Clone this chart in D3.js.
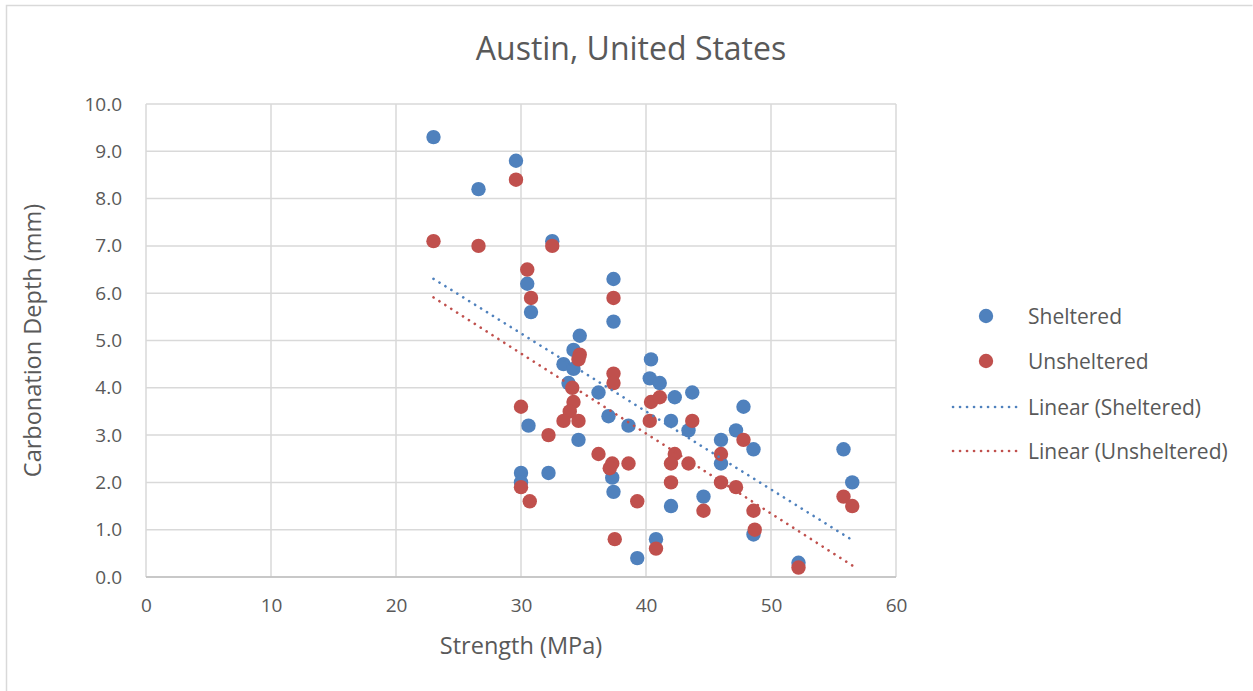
<!DOCTYPE html>
<html>
<head>
<meta charset="utf-8">
<script src="https://cdn.jsdelivr.net/npm/d3@7"></script>
<style>
  html, body { margin: 0; padding: 0; background: #fff; }
  svg { display: block; font-family: "Open Sans", Lato, sans-serif; }
</style>
</head>
<body>
<svg id="chart" width="1253" height="691"></svg>
<script>
// Compressive strength (MPa) vs carbonation depth (mm), Austin specimens
const shelteredStrength = [23.0, 26.6, 29.6, 32.5, 30.5, 30.8, 37.4, 37.4, 34.7, 34.2, 33.4, 34.2, 33.8, 36.2, 37.0, 38.6, 34.6, 30.6, 30.0, 30.0, 32.2, 37.3, 37.4, 39.3, 40.8, 40.4, 40.3, 41.1, 42.3, 43.7, 42.0, 43.4, 47.8, 47.2, 46.0, 46.0, 48.6, 44.6, 42.0, 48.6, 52.2, 55.8, 56.5];
const shelteredDepth    = [9.3, 8.2, 8.8, 7.1, 6.2, 5.6, 6.3, 5.4, 5.1, 4.8, 4.5, 4.4, 4.1, 3.9, 3.4, 3.2, 2.9, 3.2, 2.2, 2.0, 2.2, 2.1, 1.8, 0.4, 0.8, 4.6, 4.2, 4.1, 3.8, 3.9, 3.3, 3.1, 3.6, 3.1, 2.9, 2.4, 2.7, 1.7, 1.5, 0.9, 0.3, 2.7, 2.0];

const unshelteredStrength = [23.0, 26.6, 29.6, 32.5, 30.5, 30.8, 37.4, 34.7, 34.6, 37.4, 37.4, 34.1, 34.2, 33.9, 33.4, 34.6, 30.0, 32.2, 36.2, 37.3, 37.1, 38.6, 30.0, 30.7, 39.3, 37.5, 40.4, 41.1, 40.3, 43.7, 47.8, 46.0, 42.3, 42.0, 43.4, 42.0, 46.0, 47.2, 44.6, 48.6, 48.7, 40.8, 52.2, 55.8, 56.5];
const unshelteredDepth    = [7.1, 7.0, 8.4, 7.0, 6.5, 5.9, 5.9, 4.7, 4.6, 4.3, 4.1, 4.0, 3.7, 3.5, 3.3, 3.3, 3.6, 3.0, 2.6, 2.4, 2.3, 2.4, 1.9, 1.6, 1.6, 0.8, 3.7, 3.8, 3.3, 3.3, 2.9, 2.6, 2.6, 2.4, 2.4, 2.0, 2.0, 1.9, 1.4, 1.4, 1.0, 0.6, 0.2, 1.7, 1.5];

const xTicks = [0, 10, 20, 30, 40, 50, 60];
const yTicks = [0, 1, 2, 3, 4, 5, 6, 7, 8, 9, 10];

const seriesNames = ["Sheltered", "Unsheltered"];
const seriesColors = ["#4f81bd", "#c0504d"];

const svg = d3.select("#chart");
const textColor = "#595959";
const gridColor = "#d9d9d9";

// chart area frame
svg.append("path")
  .attr("d", "M6.5,700 V5.5 H1252.5")
  .attr("fill", "none")
  .attr("stroke", gridColor)
  .attr("stroke-width", 1.5);

const plot = { left: 146, top: 104, right: 896, bottom: 577 };

const x = d3.scaleLinear().domain([0, 60]).range([plot.left, plot.right]);
const y = d3.scaleLinear().domain([0, 10]).range([plot.bottom, plot.top]);

// gridlines
const grid = svg.append("g");
grid.selectAll("line.h").data(yTicks).join("line")
  .attr("x1", plot.left).attr("x2", plot.right)
  .attr("y1", d => y(d)).attr("y2", d => y(d))
  .attr("stroke", gridColor).attr("stroke-width", 1.5);
grid.selectAll("line.v").data(xTicks).join("line")
  .attr("y1", plot.top).attr("y2", plot.bottom)
  .attr("x1", d => x(d)).attr("x2", d => x(d))
  .attr("stroke", gridColor).attr("stroke-width", 1.5);

// axes
const xAxis = svg.append("g")
  .attr("transform", `translate(0,${plot.bottom})`)
  .call(d3.axisBottom(x).tickValues(xTicks).tickSize(0).tickPadding(22).tickFormat(d3.format("d")));
const yAxis = svg.append("g")
  .attr("transform", `translate(${plot.left},0)`)
  .call(d3.axisLeft(y).tickValues(yTicks).tickSize(0).tickPadding(24).tickFormat(d3.format(".1f")));
[xAxis, yAxis].forEach(g => {
  g.select(".domain").remove();
  g.selectAll("text").attr("fill", textColor).style("font-size", "19px").style("font-family", "'Open Sans', sans-serif");
});
svg.append("line")
  .attr("x1", plot.left).attr("x2", plot.right)
  .attr("y1", plot.bottom).attr("y2", plot.bottom)
  .attr("stroke", "#bfbfbf").attr("stroke-width", 1.5);

// linear least-squares fit, drawn across the range of each series
function fit(xs, ys) {
  const n = xs.length;
  const mx = d3.mean(xs), my = d3.mean(ys);
  let sxy = 0, sxx = 0;
  for (let i = 0; i < n; i++) { sxy += (xs[i] - mx) * (ys[i] - my); sxx += (xs[i] - mx) ** 2; }
  const b = sxy / sxx, a = my - b * mx;
  const x0 = d3.min(xs), x1 = d3.max(xs);
  return [[x0, a + b * x0], [x1, a + b * x1]];
}

const series = [
  { xs: shelteredStrength, ys: shelteredDepth },
  { xs: unshelteredStrength, ys: unshelteredDepth }
];

// markers
series.forEach((s, i) => {
  const pts = s.xs.map((v, j) => [v, s.ys[j]]);
  svg.append("g").selectAll("circle").data(pts).join("circle")
    .attr("cx", d => x(d[0])).attr("cy", d => y(d[1]))
    .attr("r", 7.2)
    .attr("fill", seriesColors[i]);
});

// trendlines
const line = d3.line().x(d => x(d[0])).y(d => y(d[1]));
series.forEach((s, i) => {
  svg.append("path")
    .attr("d", line(fit(s.xs, s.ys)))
    .attr("fill", "none")
    .attr("stroke", seriesColors[i])
    .attr("stroke-width", 2.6)
    .attr("stroke-linecap", "round")
    .attr("stroke-dasharray", "0.1 6.9");
});

// title
svg.append("text")
  .attr("x", 631).attr("y", 60)
  .attr("text-anchor", "middle")
  .attr("fill", textColor)
  .style("font-size", "32px")
  .text("Austin, United States");

// axis titles
svg.append("text")
  .attr("x", (plot.left + plot.right) / 2).attr("y", 654)
  .attr("text-anchor", "middle")
  .attr("fill", textColor)
  .style("font-size", "23.5px")
  .text("Strength (MPa)");
svg.append("text")
  .attr("transform", `translate(41,${(plot.top + plot.bottom) / 2}) rotate(-90)`)
  .attr("text-anchor", "middle")
  .attr("fill", textColor)
  .style("font-size", "23.5px")
  .text("Carbonation Depth (mm)");

// legend
const legend = svg.append("g");
const legendY = [316, 361, 407, 451];
seriesNames.forEach((name, i) => {
  legend.append("circle")
    .attr("cx", 986).attr("cy", legendY[i]).attr("r", 7.2)
    .attr("fill", seriesColors[i]);
  legend.append("text")
    .attr("x", 1028).attr("y", legendY[i]).attr("dy", "0.38em")
    .attr("fill", textColor).style("font-size", "21px")
    .text(name);
});
seriesNames.forEach((name, i) => {
  const yy = legendY[i + 2];
  legend.append("line")
    .attr("x1", 953).attr("x2", 1020).attr("y1", yy).attr("y2", yy)
    .attr("stroke", seriesColors[i]).attr("stroke-width", 2.6)
    .attr("stroke-linecap", "round").attr("stroke-dasharray", "0.1 6.9");
  legend.append("text")
    .attr("x", 1028).attr("y", yy).attr("dy", "0.38em")
    .attr("fill", textColor).style("font-size", "21px")
    .text(`Linear (${name})`);
});
</script>
</body>
</html>
